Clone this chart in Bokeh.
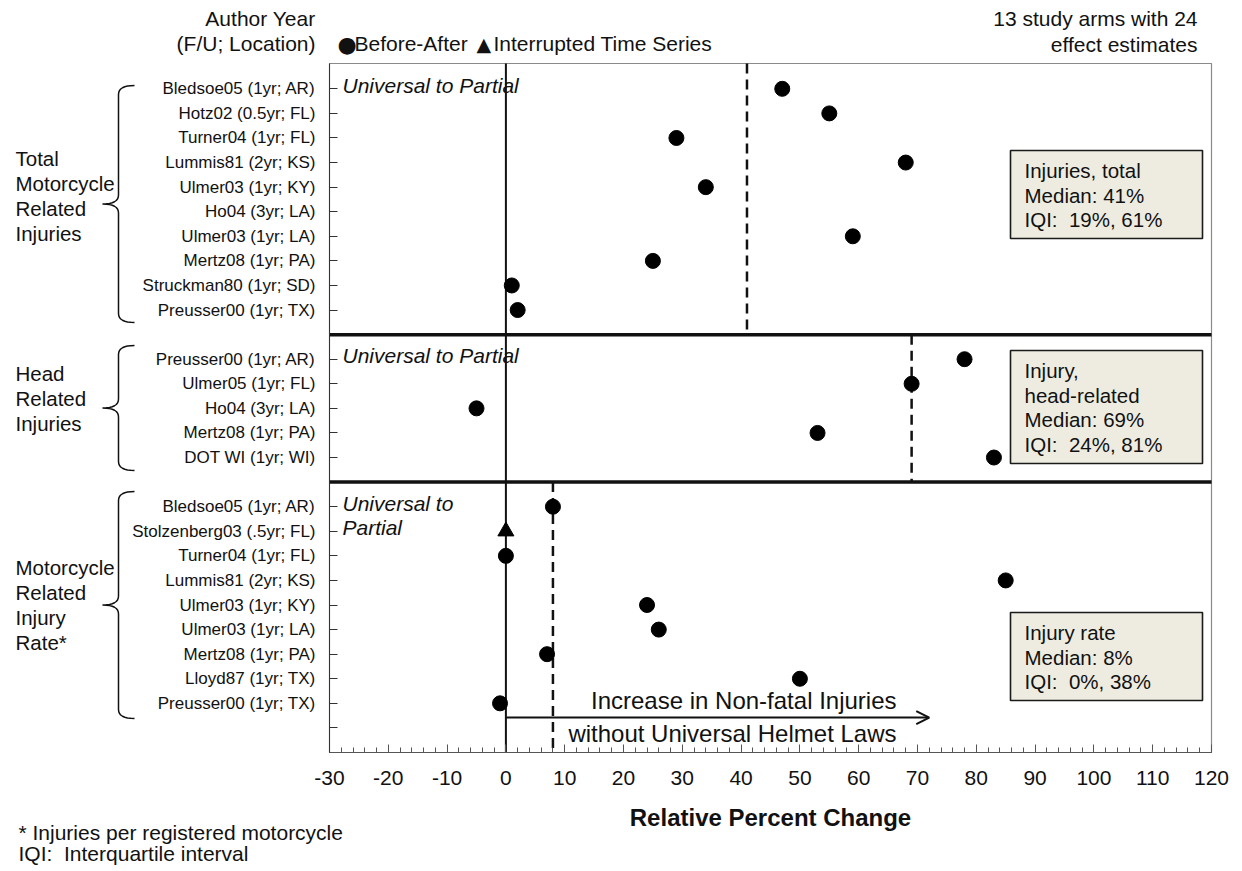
from bokeh.plotting import figure
from bokeh.models import (Range1d, FixedTicker, SingleIntervalTicker, Label,
                          BoxAnnotation, Arrow, OpenHead, PolyAnnotation)
from bokeh.embed import file_html
from bokeh.resources import INLINE

# ---------------- data ----------------
labels_total = ["Bledsoe05 (1yr; AR)", "Hotz02 (0.5yr; FL)", "Turner04 (1yr; FL)",
                "Lummis81 (2yr; KS)", "Ulmer03 (1yr; KY)", "Ho04 (3yr; LA)",
                "Ulmer03 (1yr; LA)", "Mertz08 (1yr; PA)", "Struckman80 (1yr; SD)",
                "Preusser00 (1yr; TX)"]
values_total = [47, 55, 29, 68, 34, None, 59, 25, 1, 2]
design_total = ["BA"] * 10

labels_head = ["Preusser00 (1yr; AR)", "Ulmer05 (1yr; FL)", "Ho04 (3yr; LA)",
               "Mertz08 (1yr; PA)", "DOT WI (1yr; WI)"]
values_head = [78, 69, -5, 53, 83]
design_head = ["BA"] * 5

labels_rate = ["Bledsoe05 (1yr; AR)", "Stolzenberg03 (.5yr; FL)", "Turner04 (1yr; FL)",
               "Lummis81 (2yr; KS)", "Ulmer03 (1yr; KY)", "Ulmer03 (1yr; LA)",
               "Mertz08 (1yr; PA)", "Lloyd87 (1yr; TX)", "Preusser00 (1yr; TX)"]
values_rate = [8, 0, 0, 85, 24, 26, 7, 50, -1]
design_rate = ["BA", "ITS", "BA", "BA", "BA", "BA", "BA", "BA", "BA"]

group_names = [["Total", "Motorcycle", "Related", "Injuries"],
               ["Head", "Related", "Injuries"],
               ["Motorcycle", "Related", "Injury", "Rate*"]]
box_titles = [["Injuries, total"], ["Injury,", "head-related"], ["Injury rate"]]
medians = [41, 69, 8]
iqi_low = [19, 24, 0]
iqi_high = [61, 81, 38]
section_notes = [["Universal to Partial"], ["Universal to Partial"], ["Universal to", "Partial"]]

x_tick_values = [-30, -20, -10, 0, 10, 20, 30, 40, 50, 60, 70, 80, 90, 100, 110, 120]
x_tick_labels = ["-30", "-20", "-10", "0", "10", "20", "30", "40", "50", "60", "70",
                 "80", "90", "100", "110", "120"]
x_min, x_max = -30, 120

FONT = "Liberation Sans, Arial, sans-serif"
SYM_FONT = "DejaVu Sans, sans-serif"
INK = "#111111"
NB = "\u00a0"
TXT = "21px"

# ---------------- layout: page px <-> data ----------------
W, H = 1240, 870
PL, PR, PT, PB = 329, 1211, 63, 752        # plot box in page px
Y_TOP, Y_BOT = -1.03, 27.0                  # row coordinates of plot box edges
XS = (PR - PL) / (x_max - x_min)
YS = (PB - PT) / (Y_BOT - Y_TOP)


def dx(px):
    return x_min + (px - PL) / XS


def dy(py):
    return Y_TOP + (py - PT) / YS


def label(px, py, text, align="left", size=TXT, font=FONT, style="normal", level="annotation"):
    return Label(x=dx(px), y=dy(py), text=text, text_align=align, text_baseline="middle",
                 text_font=font, text_font_size=size, text_font_style=style,
                 text_color=INK, level=level)


# ---------------- rows ----------------
sections = [(labels_total, values_total, design_total),
            (labels_head, values_head, design_head),
            (labels_rate, values_rate, design_rate)]
row = 0
sec_rows, separators = [], []
tick_rows, tick_labels = [], {}
ba_x, ba_y, its_x, its_y = [], [], [], []
for i, (labs, vals, des) in enumerate(sections):
    rows = list(range(row, row + len(labs)))
    sec_rows.append(rows)
    for r, lab, v, d in zip(rows, labs, vals, des):
        tick_rows.append(r)
        tick_labels[r] = lab
        if v is None:
            continue
        if d == "BA":
            ba_x.append(v); ba_y.append(r)
        else:
            its_x.append(v); its_y.append(r)
    row += len(labs)
    if i < len(sections) - 1:
        separators.append(row)
        row += 1
tick_rows.append(row)          # trailing empty tick
tick_labels[row] = " "

p = figure(width=W, height=H, output_backend="svg", toolbar_location=None,
           x_range=Range1d(dx(0), dx(W)), y_range=Range1d(dy(H), dy(0)),
           min_border=0, min_border_left=0, min_border_right=0,
           min_border_top=0, min_border_bottom=0)
p.grid.visible = False
p.outline_line_color = None
p.background_fill_color = "white"
p.border_fill_color = "white"

# plot box (gray frame)
p.add_layout(BoxAnnotation(left=x_min, right=x_max, top=Y_TOP, bottom=Y_BOT,
                           fill_alpha=0, line_color="#8a8a8a", line_alpha=1.0,
                           line_width=1.2, level="underlay"))

# y axis (fixed at left edge of the plot box)
ya = p.yaxis[0]
ya.fixed_location = x_min
ya.bounds = (Y_TOP, Y_BOT)
ya.ticker = FixedTicker(ticks=tick_rows)
ya.major_label_overrides = tick_labels
ya.major_label_text_font = FONT
ya.major_label_text_font_size = "17px"
ya.major_label_text_color = INK
ya.major_tick_in = 8
ya.major_tick_out = 0
ya.minor_tick_line_color = None
ya.major_label_standoff = 14
ya.axis_line_color = "#333333"
ya.major_tick_line_color = "#333333"

# x axis (fixed at bottom edge of the plot box)
xa = p.xaxis[0]
xa.fixed_location = Y_BOT
xa.bounds = (x_min, x_max)
xa.ticker = SingleIntervalTicker(interval=10, num_minor_ticks=5)
xa.major_label_overrides = dict(zip(x_tick_values, x_tick_labels))
xa.major_tick_in = 8
xa.major_tick_out = 0
xa.minor_tick_in = 5
xa.minor_tick_out = 0
xa.axis_line_color = "#555555"
xa.major_tick_line_color = "#555555"
xa.minor_tick_line_color = "#555555"
xa.major_label_text_font = FONT
xa.major_label_text_font_size = "21px"
xa.major_label_text_color = INK
xa.major_label_standoff = 18
xa.axis_label = "Relative Percent Change"
xa.axis_label_text_font = FONT
xa.axis_label_text_font_size = "24px"
xa.axis_label_text_font_style = "bold"
xa.axis_label_text_color = INK
xa.axis_label_standoff = 16

# zero line, separators, medians
p.segment(x0=[0], y0=[Y_TOP], x1=[0], y1=[Y_BOT], line_color=INK, line_width=2)
p.segment(x0=[x_min] * len(separators), y0=separators, x1=[x_max] * len(separators),
          y1=separators, line_color=INK, line_width=3.5)
seg_top = [Y_TOP] + separators
seg_bot = separators + [Y_BOT]
p.segment(x0=medians, y0=seg_top, x1=medians, y1=seg_bot, line_color=INK,
          line_width=2.5, line_dash="10 6")

# arrow + caption
arrow_row = sec_rows[-1][-1] + 0.58
p.add_layout(Arrow(end=OpenHead(size=13, line_width=2, line_color=INK),
                   x_start=0, y_start=arrow_row, x_end=72, y_end=arrow_row,
                   line_width=2, line_color=INK))
p.add_layout(label(896, 700, "Increase in Non-fatal Injuries", align="right", size="24px"))
p.add_layout(label(896, 733, "without Universal Helmet Laws", align="right", size="24px"))

# points
p.scatter(x=ba_x, y=ba_y, marker="circle", size=15, fill_color="black", line_color="black")
p.scatter(x=its_x, y=its_y, marker="triangle", size=16, fill_color="black", line_color="black")

# section notes (italic)
for rows, notes in zip(sec_rows, section_notes):
    for k, t in enumerate(notes):
        p.add_layout(Label(x=dx(342), y=rows[0] + k - 0.15, text=t, text_align="left",
                           text_baseline="middle", text_font=FONT, text_font_size="21px",
                           text_font_style="italic", text_color=INK))

# stat boxes
box_px = [(150, 238), (350, 463), (612, 700)]
for (t_px, b_px), titles, med, lo, hi in zip(box_px, box_titles, medians, iqi_low, iqi_high):
    p.add_layout(BoxAnnotation(left=dx(1010), right=dx(1202), top=dy(t_px), bottom=dy(b_px),
                               fill_color="#EEECE1", fill_alpha=1.0, line_color="#1a1a1a",
                               line_alpha=1.0, line_width=1.6, level="overlay"))
    lines = titles + [f"Median: {med}%", f"IQI:{NB} {lo}%, {hi}%"]
    y0 = t_px + 20
    for k, t in enumerate(lines):
        p.add_layout(label(1024, y0 + 24.5 * k, t, size="20.5px", level="overlay"))

# braces
brace_px = [(85, 322), (345, 470), (491, 718)]
XL, XH, XT, RR = 118, 134, 102, 9


def quad(p0, c, p1, n=8):
    pts = []
    for i in range(1, n + 1):
        t = i / n
        pts.append(((1 - t) ** 2 * p0[0] + 2 * (1 - t) * t * c[0] + t ** 2 * p1[0],
                    (1 - t) ** 2 * p0[1] + 2 * (1 - t) * t * c[1] + t ** 2 * p1[1]))
    return pts


for (top, bot) in brace_px:
    mid = (top + bot) / 2
    pts = [(XH, top)]
    pts += quad((XH, top), (XL, top), (XL, top + RR))
    pts += [(XL, mid - RR)]
    pts += quad((XL, mid - RR), (XL, mid), (XT, mid))
    pts += quad((XT, mid), (XL, mid), (XL, mid + RR))
    pts += [(XL, bot - RR)]
    pts += quad((XL, bot - RR), (XL, bot), (XH, bot))
    full = pts + pts[::-1][1:]
    p.add_layout(PolyAnnotation(xs=[dx(a) for a, b in full], ys=[dy(b) for a, b in full],
                                fill_alpha=0, line_color=INK, line_alpha=1.0, line_width=1.5))

# group labels
group_centers = [195, 398, 604.5]
for names, c in zip(group_names, group_centers):
    n = len(names)
    for k, t in enumerate(names):
        p.add_layout(label(15, c + (k - (n - 1) / 2) * 25, t, size="20.5px"))

# header texts
p.add_layout(label(315, 18, "Author Year", align="right"))
p.add_layout(label(315, 43, "(F/U; Location)", align="right"))
p.add_layout(label(337, 44, "\u25CF", size="22px", font=SYM_FONT))
p.add_layout(label(354, 43, "Before-After"))
p.add_layout(label(476, 43, "\u25B2", size="19px", font=SYM_FONT))
p.add_layout(label(493, 43, "Interrupted Time Series"))
p.add_layout(label(1197, 18, "13 study arms with 24", align="right"))
p.add_layout(label(1197, 44, "effect estimates", align="right"))

# footnotes
p.add_layout(label(18, 832, "* Injuries per registered motorcycle"))
p.add_layout(label(18, 853, f"IQI:{NB} Interquartile interval"))

open("out.html", "w").write(file_html(p, INLINE))
